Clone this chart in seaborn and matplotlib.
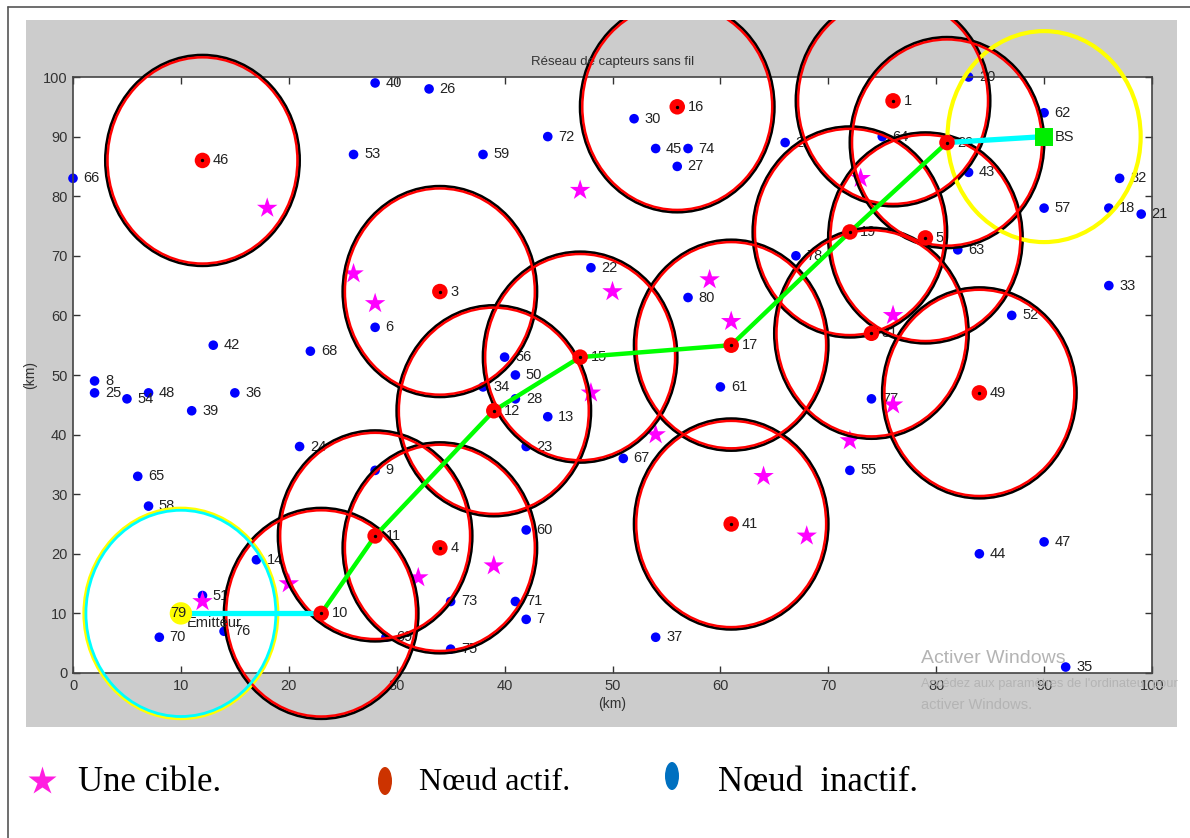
import numpy as np
import pandas as pd
import matplotlib
matplotlib.use("Agg")
import matplotlib.pyplot as plt
import seaborn as sns
from matplotlib.patches import Ellipse, Rectangle
from matplotlib.lines import Line2D

# ---------------- data ----------------
inactive_ids = [40, 26, 66, 53, 59, 72, 30, 45, 74, 27, 2, 20, 64, 43, 62, 57, 32, 18, 21, 63,
                33, 52, 78, 80, 22, 6, 42, 68, 8, 25, 54, 48, 36, 39, 24, 65, 58, 14, 51, 76,
                70, 9, 69, 75, 73, 71, 7, 60, 23, 13, 28, 34, 50, 56, 67, 61, 37, 77, 55, 44,
                47, 35]
inactive_x = [28, 33, 0, 26, 38, 44, 52, 54, 57, 56, 66, 83, 75, 83, 90, 90, 97, 96, 99, 82,
              96, 87, 67, 57, 48, 28, 13, 22, 2, 2, 5, 7, 15, 11, 21, 6, 7, 17, 12, 14,
              8, 28, 29, 35, 35, 41, 42, 42, 42, 44, 41, 38, 41, 40, 51, 60, 54, 74, 72, 84,
              90, 92]
inactive_y = [99, 98, 83, 87, 87, 90, 93, 88, 88, 85, 89, 100, 90, 84, 94, 78, 83, 78, 77, 71,
              65, 60, 70, 63, 68, 58, 55, 54, 49, 47, 46, 47, 47, 44, 38, 33, 28, 19, 13, 7,
              6, 34, 6, 4, 12, 12, 9, 24, 38, 43, 46, 48, 50, 53, 36, 48, 6, 46, 34, 20,
              22, 1]

active_ids = [46, 16, 3, 15, 17, 1, 29, 19, 5, 31, 49, 41, 12, 4, 11, 10]
active_x = [12, 56, 34, 47, 61, 76, 81, 72, 79, 74, 84, 61, 39, 34, 28, 23]
active_y = [86, 95, 64, 53, 55, 96, 89, 74, 73, 57, 47, 25, 44, 21, 23, 10]

target_x = [18, 26, 28, 47, 50, 59, 61, 73, 76, 48, 54, 64, 68, 72, 76, 39, 32, 20, 12]
target_y = [78, 67, 62, 81, 64, 66, 59, 83, 60, 47, 40, 33, 23, 39, 45, 18, 16, 15, 12]

emitter_id = 79
emitter_x, emitter_y = [10], [10]
bs_x, bs_y = [90], [90]

route_ids = [10, 11, 12, 15, 17, 19, 29]

sense_rx, sense_ry = 8.8, 17.3      # sensing range (data units, x / y)
bs_rx, bs_ry = 8.95, 17.7

x_ticks = list(range(0, 101, 10))
y_ticks = list(range(0, 101, 10))

# ---------------- style ----------------
sns.set_style("ticks")
plt.rcParams['font.family'] = ['Liberation Sans', 'DejaVu Sans']

W, H = 1190, 838
fig = plt.figure(figsize=(W / 100, H / 100), dpi=100)
fig.patch.set_facecolor("white")


def fx(px):
    return px / W


def fy(py):
    return 1 - py / H


# grey window panel
panel = Rectangle((fx(26), fy(727)), fx(1177) - fx(26), fy(20) - fy(727),
                  transform=fig.transFigure, facecolor="#CCCCCC", edgecolor="none", zorder=-10)
fig.patches.append(panel)
# outer frame lines
fig.add_artist(Line2D([fx(8), fx(8)], [0, fy(7)], transform=fig.transFigure, color="#555555",
                      lw=1.2, zorder=-5))
fig.add_artist(Line2D([fx(8), 1], [fy(7), fy(7)], transform=fig.transFigure, color="#555555",
                      lw=1.2, zorder=-5))

ax = fig.add_axes([fx(73), fy(673), fx(1152) - fx(73), fy(77) - fy(673)])
ax.set_facecolor("white")

inactive = pd.DataFrame({"id": inactive_ids, "x": inactive_x, "y": inactive_y})
active = pd.DataFrame({"id": active_ids, "x": active_x, "y": active_y})
targets = pd.DataFrame({"x": target_x, "y": target_y})
pos = dict(zip(active_ids, zip(active_x, active_y)))
route = pd.DataFrame({"x": [pos[i][0] for i in route_ids], "y": [pos[i][1] for i in route_ids]})

LBL = 10.5

# inactive nodes
sns.scatterplot(data=inactive, x="x", y="y", color="#0000FF", s=48, edgecolor="none",
                ax=ax, zorder=2, clip_on=False, legend=False)
for _, r in inactive.iterrows():
    ax.annotate(str(int(r["id"])), (r["x"], r["y"]), xytext=(7.5, 0), textcoords="offset points",
                va="center", ha="left", fontsize=LBL, color="#222222", zorder=2,
                annotation_clip=False)
for _, r in active.iterrows():
    ax.annotate(str(int(r["id"])), (r["x"], r["y"]), xytext=(7.5, 0), textcoords="offset points",
                va="center", ha="left", fontsize=LBL, color="#222222", zorder=2)

# targets
sns.scatterplot(data=targets, x="x", y="y", color="#FF00FF", marker="*", s=240,
                edgecolor="none", ax=ax, zorder=2.5, legend=False)

# sensing circles
for x, y in zip(active_x, active_y):
    e1 = Ellipse((x, y), 2 * (sense_rx + 0.2), 2 * (sense_ry + 0.38), fill=False,
                 ec="black", lw=2.0, zorder=3)
    e2 = Ellipse((x, y), 2 * sense_rx, 2 * sense_ry, fill=False, ec="red", lw=1.8, zorder=3.1)
    for e in (e1, e2):
        ax.add_patch(e)
        e.set_clip_path(panel)

# emitter range
e1 = Ellipse((emitter_x[0], emitter_y[0]), 2 * (sense_rx + 0.2), 2 * (sense_ry + 0.38),
             fill=False, ec="#FFFF00", lw=2.0, zorder=3)
e2 = Ellipse((emitter_x[0], emitter_y[0]), 2 * sense_rx, 2 * sense_ry,
             fill=False, ec="#00FFFF", lw=2.0, zorder=3.1)
for e in (e1, e2):
    ax.add_patch(e)
    e.set_clip_path(panel)
# BS range
eb = Ellipse((bs_x[0], bs_y[0]), 2 * bs_rx, 2 * bs_ry, fill=False, ec="#FFFF00", lw=3.0, zorder=3)
ax.add_patch(eb)
eb.set_clip_path(panel)

# routing path
sns.lineplot(data=route, x="x", y="y", sort=False, color="#00FF00", lw=3.2, ax=ax,
             zorder=4, estimator=None)
sns.lineplot(x=[emitter_x[0], pos[10][0]], y=[emitter_y[0], pos[10][1]], sort=False,
             color="#00FFFF", lw=3.8, ax=ax, zorder=4, estimator=None)
sns.lineplot(x=[pos[29][0], bs_x[0]], y=[pos[29][1], bs_y[0]], sort=False,
             color="#00FFFF", lw=3.8, ax=ax, zorder=4, estimator=None)

# active nodes
sns.scatterplot(data=active, x="x", y="y", color="#FF0000", s=125, edgecolor="none",
                ax=ax, zorder=5, legend=False)
ax.scatter(active["x"], active["y"], color="black", s=2, zorder=5.1)

# emitter & BS
sns.scatterplot(x=emitter_x, y=emitter_y, color="#FFFF00", s=260, edgecolor="none",
                ax=ax, zorder=5, legend=False)
ax.annotate(str(emitter_id), (emitter_x[0], emitter_y[0]), xytext=(-7.5, 0),
            textcoords="offset points", va="center", ha="left", fontsize=LBL,
            color="#222222", zorder=6)
ax.annotate("Emitteur", (emitter_x[0], emitter_y[0]), xytext=(4, -7),
            textcoords="offset points", va="center", ha="left", fontsize=LBL,
            color="#222222", zorder=3.5)
sns.scatterplot(x=bs_x, y=bs_y, color="#00EE00", marker="s", s=170, edgecolor="none",
                ax=ax, zorder=5, legend=False)
ax.annotate("BS", (bs_x[0], bs_y[0]), xytext=(7.5, 0), textcoords="offset points",
            va="center", ha="left", fontsize=LBL, color="#222222", zorder=6)

# axes cosmetics
ax.set_xlim(0, 100)
ax.set_ylim(0, 100)
ax.set_xticks(x_ticks)
ax.set_yticks(y_ticks)
ax.tick_params(direction="in", length=5, width=1, top=True, right=True, labelsize=10.5,
               colors="#333333", pad=4)
for s in ax.spines.values():
    s.set_color("#444444")
    s.set_linewidth(1.2)
ax.set_title("Réseau de capteurs sans fil", fontsize=9.5, color="#333333", pad=9)
ax.set_xlabel("(km)", fontsize=10, color="#333333", labelpad=3)
ax.set_ylabel("(km)", fontsize=10, color="#333333", labelpad=4)

# watermark
fig.text(fx(921), fy(658), "Activer Windows", fontsize=14, color="#B4B4B4", va="center", ha="left")
fig.text(fx(921), fy(684), "Accédez aux paramètres de l'ordinateur pour", fontsize=9.3,
         color="#B4B4B4", va="center", ha="left")
fig.text(fx(921), fy(705), "activer Windows.", fontsize=10.5, color="#B4B4B4",
         va="center", ha="left")

# bottom legend (figure pixel space)
lax = fig.add_axes([0, 0, 1, 1], zorder=-1)
lax.set_xlim(0, W)
lax.set_ylim(H, 0)
lax.axis("off")
lax.patch.set_alpha(0)
lax.plot([42], [781], marker="*", color="#FF1EE0", markersize=21, mec="none")
lax.add_patch(Ellipse((385, 781), 14, 28, color="#CC3300", ec="none"))
lax.add_patch(Ellipse((672, 776), 14, 28, color="#0070C0", ec="none"))
serif = ['Liberation Serif', 'DejaVu Serif']
lax.text(78, 782, "Une cible.", fontsize=25, family=serif, va="center", ha="left", color="black")
lax.text(419, 782, "Nœud actif.", fontsize=23, family=serif, va="center", ha="left", color="black")
lax.text(718, 782, "Nœud  inactif.", fontsize=25, family=serif, va="center", ha="left", color="black")

fig.savefig("out.png", dpi=100)
